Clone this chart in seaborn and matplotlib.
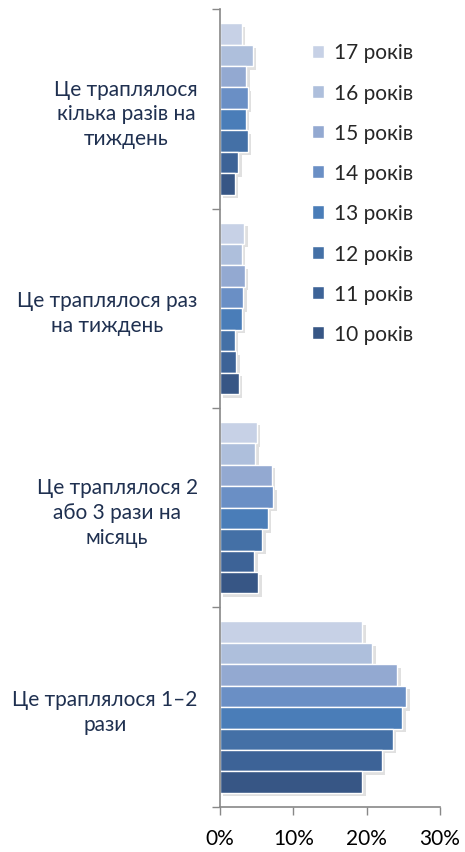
import matplotlib.pyplot as plt
import matplotlib.patheffects as pe
import seaborn as sns
import pandas as pd

# categories (top to bottom)
categories = ["Це траплялося\nкілька разів на\nтиждень",
              "Це траплялося раз\nна тиждень",
              "Це траплялося 2\nабо 3 рази на\nмісяць",
              "Це траплялося 1–2\nрази"]

ages = ["17 років", "16 років", "15 років", "14 років",
        "13 років", "12 років", "11 років", "10 років"]

# values in % per age, same order as categories
age17 = [3.0, 3.3, 5.0, 19.4]
age16 = [4.5, 3.0, 4.8, 20.8]
age15 = [3.6, 3.4, 7.1, 24.2]
age14 = [3.8, 3.2, 7.3, 25.4]
age13 = [3.5, 3.0, 6.5, 24.9]
age12 = [3.8, 2.0, 5.8, 23.6]
age11 = [2.5, 2.2, 4.7, 22.1]
age10 = [2.0, 2.6, 5.2, 19.4]

colors = ["#C7D1E6", "#AEBFDC", "#93A9D1", "#6A8FC5",
          "#4A7DB8", "#4470A6", "#3D6397", "#375685"]

series = [age17, age16, age15, age14, age13, age12, age11, age10]
rows = []
for age, vals in zip(ages, series):
  for cat, v in zip(categories, vals):
    rows.append({"cat": cat, "age": age, "val": v})
data = pd.DataFrame(rows)

sns.set_theme(style="white")
plt.rcParams['font.family'] = ['Lato', 'DejaVu Sans']

f = plt.figure(figsize=(4.65, 8.53), dpi=100)
ax = f.add_axes([0.473, 0.053, 0.473, 0.935])

sns.barplot(data=data, y="cat", x="val", hue="age", order=categories,
            hue_order=ages, palette=colors, saturation=1, width=0.86, orient="h",
            edgecolor="white", linewidth=1.0, ax=ax, legend=False)

for p in ax.patches:
  p.set_path_effects([pe.SimplePatchShadow(offset=(2.5, -2.5), shadow_rgbFace="#999999", alpha=0.3),
                      pe.Normal()])

ax.set_xlim(0, 30)
ax.set_xticks([0, 10, 20, 30])
ax.set_xticklabels(["0%", "10%", "20%", "30%"], fontsize=15, color="black")
ax.set_ylim(3.5, -0.5)
ax.set_yticks(range(len(categories)))
ax.set_yticklabels(categories, fontsize=15, color="#1F3050", multialignment="center",
                   linespacing=1.3)
ax.tick_params(axis="y", which="major", length=0, pad=16)
ax.set_yticks([-0.5, 0.5, 1.5, 2.5, 3.5], minor=True)
ax.tick_params(axis="y", which="minor", left=True, length=6, width=1, color="#888888")
ax.tick_params(axis="x", bottom=True, length=6, width=1, color="#888888", pad=9)
ax.set_xlabel("")
ax.set_ylabel("")

for s in ["top", "right"]:
  ax.spines[s].set_visible(False)
for s in ["left", "bottom"]:
  ax.spines[s].set_color("#888888")
  ax.spines[s].set_linewidth(1.2)

handles = [plt.Rectangle((0, 0), 1, 1, facecolor=c, edgecolor="white") for c in colors]
f.legend(handles, ages, loc="upper left", bbox_to_anchor=(0.63, 0.971),
         frameon=False, fontsize=15, handlelength=0.6, handleheight=0.6,
         handletextpad=0.45, labelspacing=0.97)

plt.savefig("out.png", dpi=100)
